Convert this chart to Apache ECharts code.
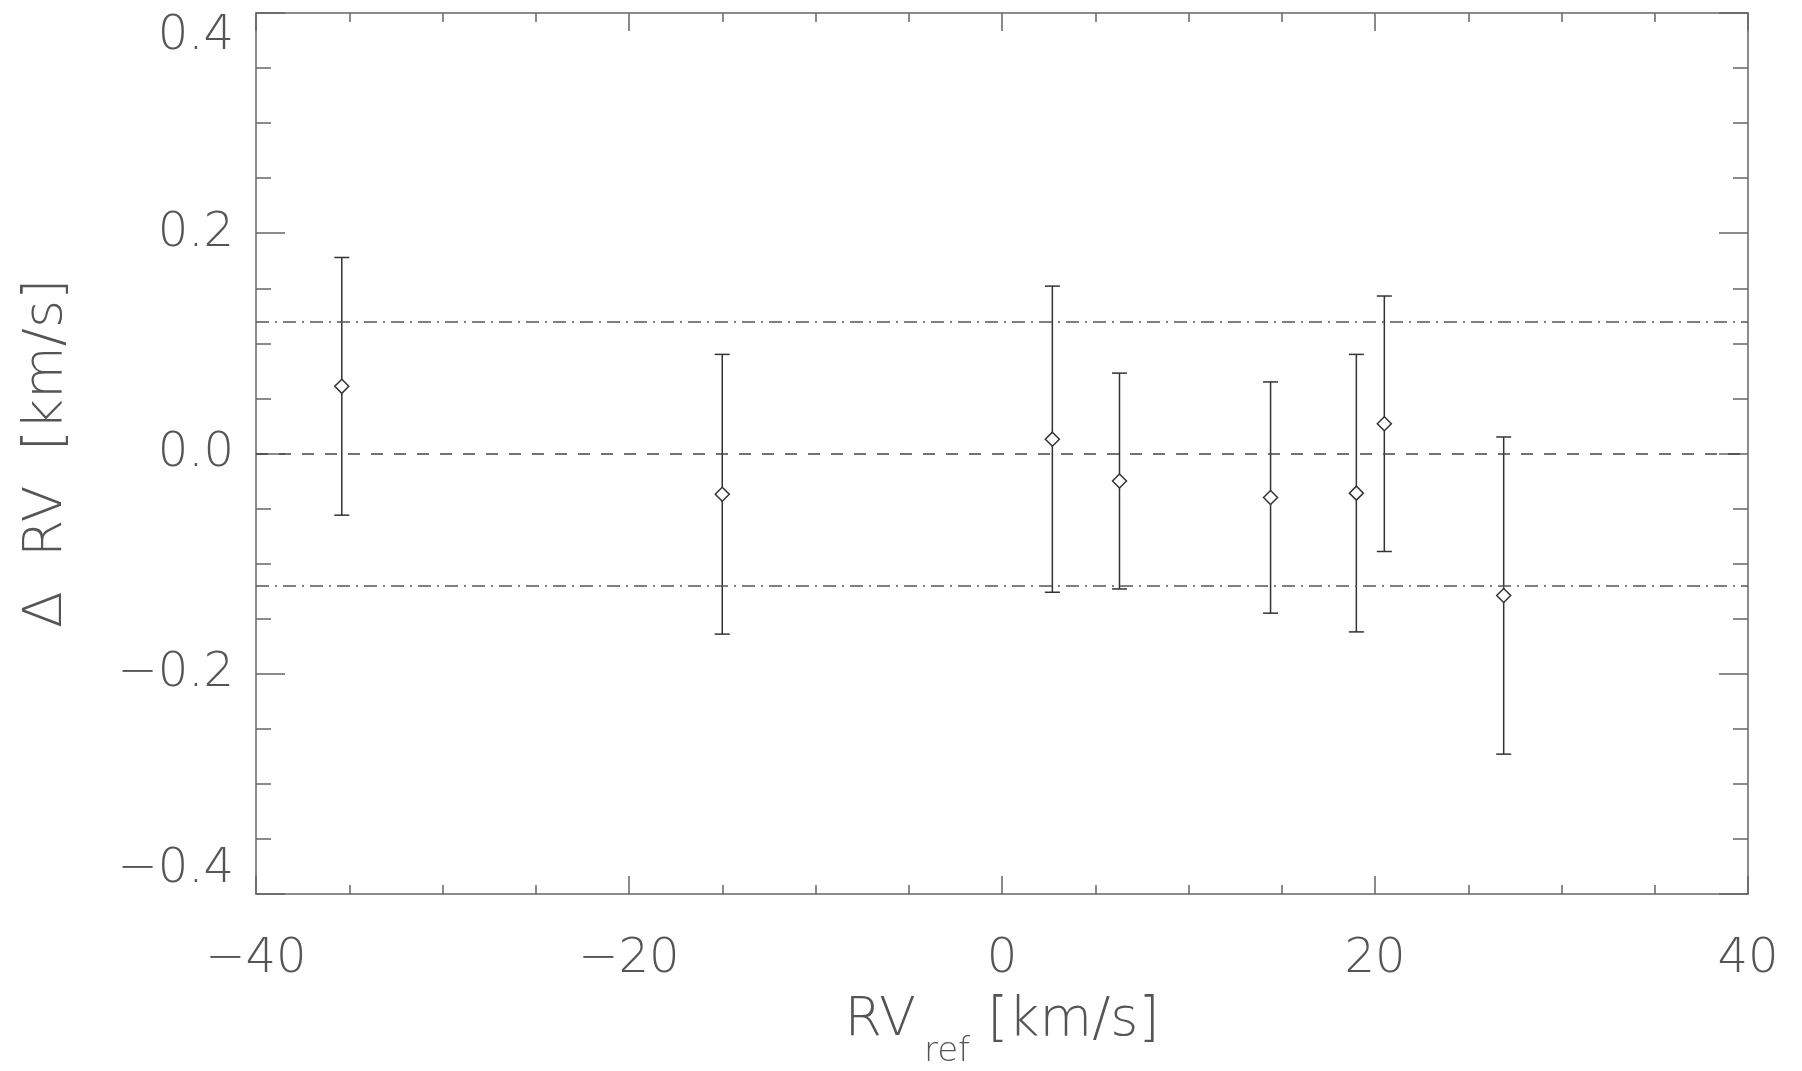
<!DOCTYPE html>
<html>
<head>
<meta charset="utf-8">
<script src="https://cdn.jsdelivr.net/npm/echarts@6/dist/echarts.min.js"></script>
<style>
  html, body { margin: 0; padding: 0; background: #fff; }
  #chart { width: 1802px; height: 1071px; }
</style>
</head>
<body>
<div id="chart"></div>
<script>
// data
var rvRef = [-35.4, -15.0, 2.7, 6.3, 14.4, 19.0, 20.5, 26.9];
var dRv   = [0.061, -0.037, 0.013, -0.025, -0.040, -0.036, 0.027, -0.129];
var dRvErr = [0.117, 0.127, 0.139, 0.098, 0.105, 0.126, 0.116, 0.144];
var zeroLine = 0;
var sigmaLines = [0.12, -0.12];

var FONT = 'DejaVu Sans';
var frameColor = '#666';
var inkColor = '#333';
var textColor = '#555';

var pts = [];
var bars = [];
for (var i = 0; i < rvRef.length; i++) {
    pts.push([rvRef[i], dRv[i]]);
    bars.push([rvRef[i], dRv[i] - dRvErr[i], dRv[i] + dRvErr[i]]);
}

function minus(s) { return s.replace('-', '\u2212'); }

var chart = echarts.init(document.getElementById('chart'));

var axisCommon = {
    axisLine: { show: true, onZero: false, lineStyle: { color: frameColor, width: 1.5 } },
    splitLine: { show: false },
    axisTick: { show: true, inside: true, lineStyle: { color: frameColor, width: 1.5 } },
    minorTick: { show: true, splitNumber: 4, lineStyle: { color: frameColor, width: 1.5 } }
};

var option = {
    animation: false,
    backgroundColor: '#fff',
    grid: { left: 256, top: 13, right: 54, bottom: 177, outerBoundsMode: 'none', containLabel: false },
    xAxis: [
        Object.assign({}, axisCommon, {
            type: 'value', position: 'bottom', min: -40, max: 40, interval: 20,
            axisTick: Object.assign({}, axisCommon.axisTick, { length: 18 }),
            minorTick: Object.assign({}, axisCommon.minorTick, { length: 9 }),
            axisLabel: {
                margin: 42, color: textColor, fontFamily: FONT, fontWeight: 200, fontSize: 48,
                formatter: function (v) { return minus(String(v)); }
            },
            name: '{a|RV}{b|ref}{a| [km/s]}',
            nameLocation: 'middle',
            nameGap: 79,
            nameTextStyle: {
                color: textColor, fontFamily: FONT, fontWeight: 200,
                rich: {
                    a: { fontSize: 54, fontFamily: FONT, fontWeight: 200, color: textColor, lineHeight: 58 },
                    b: { fontSize: 34, fontFamily: FONT, fontWeight: 200, color: textColor, padding: [62, 0, 0, 8] }
                }
            }
        }),
        Object.assign({}, axisCommon, {
            type: 'value', position: 'top', min: -40, max: 40, interval: 20,
            axisTick: Object.assign({}, axisCommon.axisTick, { length: 18 }),
            minorTick: Object.assign({}, axisCommon.minorTick, { length: 9 }),
            axisLabel: { show: false }
        })
    ],
    yAxis: [
        Object.assign({}, axisCommon, {
            type: 'value', position: 'left', min: -0.4, max: 0.4, interval: 0.2,
            axisTick: Object.assign({}, axisCommon.axisTick, { length: 29 }),
            minorTick: Object.assign({}, axisCommon.minorTick, { length: 15 }),
            axisLabel: {
                margin: 22, color: textColor, fontFamily: FONT, fontWeight: 200, fontSize: 48,
                verticalAlignMinLabel: 'bottom',
                verticalAlignMaxLabel: 'top',
                formatter: function (v) { return minus(v.toFixed(1)); }
            },
            name: '\u0394  RV  [km/s]',
            nameLocation: 'middle',
            nameRotate: 90,
            nameGap: 182,
            nameTextStyle: { color: textColor, fontFamily: FONT, fontWeight: 200, fontSize: 54 }
        }),
        Object.assign({}, axisCommon, {
            type: 'value', position: 'right', min: -0.4, max: 0.4, interval: 0.2,
            axisTick: Object.assign({}, axisCommon.axisTick, { length: 29 }),
            minorTick: Object.assign({}, axisCommon.minorTick, { length: 15 }),
            axisLabel: { show: false }
        })
    ],
    series: [
        {
            type: 'custom',
            xAxisIndex: 0, yAxisIndex: 0,
            data: bars,
            z: 3,
            renderItem: function (params, api) {
                var x = api.value(0);
                var lo = api.coord([x, api.value(1)]);
                var hi = api.coord([x, api.value(2)]);
                var cap = 7.5;
                var st = { stroke: inkColor, lineWidth: 1.5 };
                return {
                    type: 'group',
                    children: [
                        { type: 'line', shape: { x1: lo[0], y1: lo[1], x2: hi[0], y2: hi[1] }, style: st },
                        { type: 'line', shape: { x1: lo[0] - cap, y1: lo[1], x2: lo[0] + cap, y2: lo[1] }, style: st },
                        { type: 'line', shape: { x1: hi[0] - cap, y1: hi[1], x2: hi[0] + cap, y2: hi[1] }, style: st }
                    ]
                };
            }
        },
        {
            type: 'scatter',
            xAxisIndex: 0, yAxisIndex: 0,
            data: pts,
            symbol: 'diamond',
            symbolSize: [14, 14],
            z: 4,
            itemStyle: { color: '#fff', borderColor: inkColor, borderWidth: 1.5, opacity: 1 },
            markLine: {
                silent: true,
                symbol: 'none',
                label: { show: false },
                data: [
                    { yAxis: zeroLine, lineStyle: { color: '#444', width: 1.5, type: [12, 11] } },
                    { yAxis: sigmaLines[0], lineStyle: { color: '#555', width: 1.5, type: [13, 6, 2, 6] } },
                    { yAxis: sigmaLines[1], lineStyle: { color: '#555', width: 1.5, type: [13, 6, 2, 6] } }
                ]
            }
        }
    ]
};

chart.setOption(option);
</script>
</body>
</html>
